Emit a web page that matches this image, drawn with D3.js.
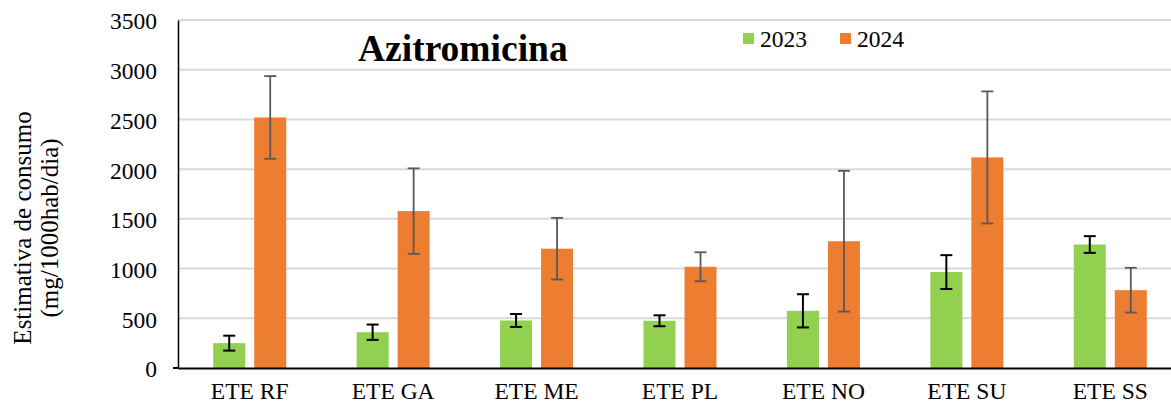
<!DOCTYPE html>
<html>
<head>
<meta charset="utf-8">
<script src="https://cdn.jsdelivr.net/npm/d3@7"></script>
<style>
  html, body { margin: 0; padding: 0; background: #fff; }
  svg { display: block; }
  text { font-family: "Liberation Serif", "Times New Roman", serif; fill: #000; }
</style>
</head>
<body>
<svg id="chart" width="1171" height="406"></svg>
<script>
const categories = ["ETE RF", "ETE GA", "ETE ME", "ETE PL", "ETE NO", "ETE SU", "ETE SS"];
const seriesNames = ["2023", "2024"];
const values2023 = [250, 360, 478, 475, 575, 965, 1242];
const values2024 = [2520, 1578, 1200, 1018, 1275, 2118, 783];
const err2023 = [75, 77, 65, 55, 167, 170, 84];
const err2024 = [416, 430, 310, 146, 708, 664, 225];
const yTicks = [0, 500, 1000, 1500, 2000, 2500, 3000, 3500];
const titleText = "Azitromicina";
const yTitleLines = ["Estimativa de consumo", "(mg/1000hab/dia)"];

const colors = { "2023": "#92d050", "2024": "#ed7d31" };
const errColors = { "2023": "#000000", "2024": "#595959" };
const errWidths = { "2023": 2, "2024": 1.8 };

(function () {
const svg = d3.select("#chart");
const mLeft = 178, mTop = 20, mBottom = 368, mRight = 1182;
const fs = 23.5;

const y = d3.scaleLinear().domain([0, 3500]).range([mBottom, mTop]);
const x = d3.scaleBand().domain(categories).range([mLeft, mRight])
  .paddingInner(0.491).paddingOuter(0.2455);
const xs = d3.scaleBand().domain(seriesNames).range([0, x.bandwidth()])
  .paddingInner(0.2195).paddingOuter(0);

// gridlines
svg.append("g").selectAll("line").data(yTicks.filter(d => d > 0)).join("line")
  .attr("x1", mLeft).attr("x2", 1171)
  .attr("y1", d => y(d)).attr("y2", d => y(d))
  .attr("stroke", "#d9d9d9").attr("stroke-width", 2);

// y axis
const yAxis = d3.axisLeft(y).tickValues(yTicks).tickFormat(d3.format("d")).tickSize(0).tickPadding(21);
const gy = svg.append("g").attr("transform", `translate(${mLeft},0)`).call(yAxis);
gy.select(".domain").attr("stroke", "#000").attr("stroke-width", 1.5);
gy.selectAll("text").attr("font-size", fs).attr("font-family", "Liberation Serif").attr("dy", "0.38em");

// data rows
const rows = categories.map((c, i) => ({
  cat: c,
  items: [
    { s: "2023", v: values2023[i], e: err2023[i] },
    { s: "2024", v: values2024[i], e: err2024[i] }
  ]
}));

const groups = svg.append("g").selectAll("g").data(rows).join("g")
  .attr("transform", d => `translate(${x(d.cat)},0)`);

groups.selectAll("rect").data(d => d.items).join("rect")
  .attr("x", d => xs(d.s)).attr("width", xs.bandwidth())
  .attr("y", d => y(d.v)).attr("height", d => y(0) - y(d.v))
  .attr("fill", d => colors[d.s]);

// error bars
const eb = groups.selectAll("g.err").data(d => d.items).join("g").attr("class", "err")
  .attr("stroke", d => errColors[d.s]).attr("stroke-width", d => errWidths[d.s]);
eb.append("line")
  .attr("x1", d => xs(d.s) + xs.bandwidth() / 2).attr("x2", d => xs(d.s) + xs.bandwidth() / 2)
  .attr("y1", d => y(d.v + d.e)).attr("y2", d => y(d.v - d.e));
eb.append("line")
  .attr("x1", d => xs(d.s) + xs.bandwidth() / 2 - 6).attr("x2", d => xs(d.s) + xs.bandwidth() / 2 + 6)
  .attr("y1", d => y(d.v + d.e)).attr("y2", d => y(d.v + d.e));
eb.append("line")
  .attr("x1", d => xs(d.s) + xs.bandwidth() / 2 - 6).attr("x2", d => xs(d.s) + xs.bandwidth() / 2 + 6)
  .attr("y1", d => y(d.v - d.e)).attr("y2", d => y(d.v - d.e));

// x axis
const xAxis = d3.axisBottom(x).tickSize(0).tickPadding(14);
const gx = svg.append("g").attr("transform", `translate(0,${mBottom})`).call(xAxis);
gx.select(".domain").attr("stroke", "#000").attr("stroke-width", 2);
gx.selectAll("text").attr("font-size", fs).attr("font-family", "Liberation Serif");
svg.append("line").attr("x1", mLeft - 5).attr("x2", mLeft).attr("y1", mBottom).attr("y2", mBottom)
  .attr("stroke", "#000").attr("stroke-width", 2);

// title
svg.append("text").attr("x", 358).attr("y", 61)
  .attr("font-size", 37.5).attr("font-weight", "bold").text(titleText);

// legend
const legend = svg.append("g");
const legX = { "2023": 743, "2024": 840 };
seriesNames.forEach(s => {
  legend.append("rect").attr("x", legX[s]).attr("y", 33).attr("width", 11).attr("height", 11).attr("fill", colors[s]);
  legend.append("text").attr("x", legX[s] + 17).attr("y", 46.5).attr("font-size", fs).text(s);
});

// y title
const yt = svg.append("text").attr("transform", "translate(0,228) rotate(-90)")
  .attr("text-anchor", "middle").attr("font-size", 25);
yt.append("tspan").attr("x", 0).attr("y", 31).text(yTitleLines[0]);
yt.append("tspan").attr("x", 0).attr("y", 58).text(yTitleLines[1]);
})();
</script>
</body>
</html>
